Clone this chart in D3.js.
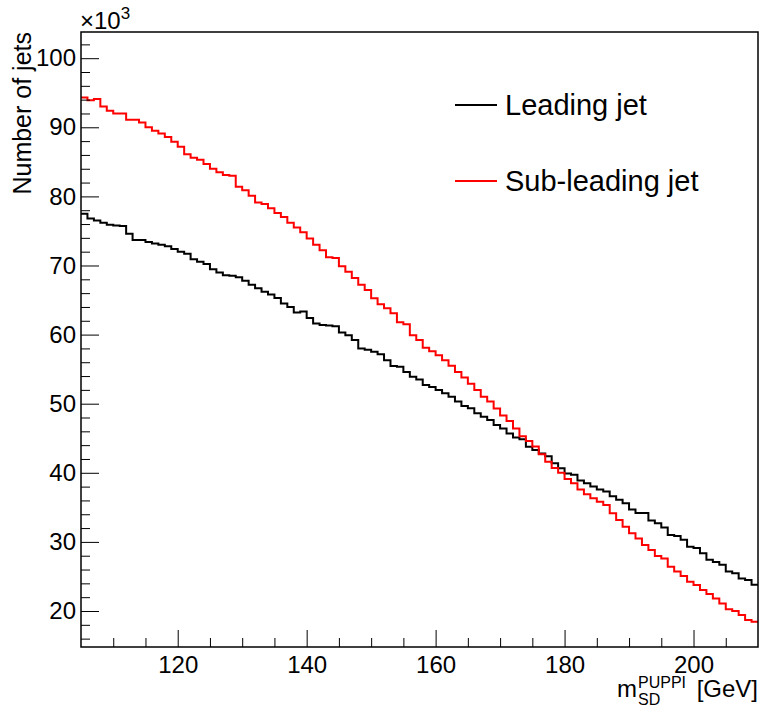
<!DOCTYPE html>
<html>
<head>
<meta charset="utf-8">
<script src="https://cdn.jsdelivr.net/npm/d3@7"></script>
<style>
  body { margin: 0; background: #fff; }
  text { font-family: "Liberation Sans", Arial, Helvetica, sans-serif; }
</style>
</head>
<body>
<div id="svgcontainer"></div>
<script>
// bin range (GeV), 1 GeV bins
const xMin = 105;
const xMax = 210;

// Number of jets per bin, in units of 10^3
const leadingJet = [
  77.5, 76.8, 76.5, 76.2, 75.9, 75.8, 75.7, 74.6, 73.7, 73.7, 73.4, 73.2, 73.0, 72.8,
  72.4, 72.0, 71.7, 70.9, 70.55, 70.2, 69.45, 69.0, 68.6, 68.5, 68.3, 67.8, 67.2,
  66.7, 66.2, 65.8, 65.3, 64.5, 64.0, 63.2, 63.35, 62.4, 61.6, 61.4, 61.3, 61.2, 60.3,
  59.9, 59.2, 58.0, 57.8, 57.5, 57.15, 56.3, 55.45, 55.35, 54.6, 53.9, 53.5, 52.7,
  52.4, 52.0, 51.5,
  51.0, 50.3, 49.67, 49.33, 48.6, 48.1, 47.64, 46.9, 46.4, 45.7, 45.1, 44.85, 43.78,
  43.3, 42.8, 42.4, 41.37, 40.65, 39.9, 39.7, 38.9, 38.5, 38.0, 37.6,
  37.3, 36.6, 36.1, 35.6, 34.7, 34.2, 34.2, 33.1, 32.7, 32.1, 31.0, 30.85, 30.3,
  29.3, 29.1, 28.35, 27.4, 27.1, 26.7, 25.7, 25.45, 24.7, 24.5, 23.8
];
const subLeadingJet = [
  94.3, 93.9, 94.1, 93.0, 92.4, 92.0, 92.0, 91.1, 91.1, 90.7, 90.0, 89.5, 89.1, 88.6,
  87.9, 87.2, 86.1, 85.6, 85.3, 84.7, 84.0, 83.5, 83.1, 83.0, 81.4, 80.9, 80.1, 79.1,
  78.9, 78.3, 77.6, 77.0, 76.2, 75.5, 74.8, 73.9, 73.0, 72.2, 71.2, 71.1, 69.9,
  69.1, 68.2, 67.2, 66.45, 65.25, 64.4, 63.8, 63.1, 61.8, 61.5, 59.9, 59.2, 58.1,
  57.6, 57.0, 56.3, 55.5, 54.6, 53.8, 52.9, 52.0, 51.0, 50.3, 49.3, 48.3, 47.5, 46.4,
  45.3, 44.6, 43.8, 42.7, 41.6, 40.7, 40.0, 39.1, 38.5, 37.6, 36.9, 36.3, 35.8,
  35.34, 34.14, 33.17, 32.2, 31.24, 30.5, 29.55, 28.83, 27.96, 27.6, 26.4, 25.7,
  25.07, 24.25, 23.76, 23.04, 22.46, 21.8, 21.1, 20.25, 20.0, 19.42, 18.7, 18.45
];

const xMajorTicks = [120, 140, 160, 180, 200];
const yMajorTicks = [20, 30, 40, 50, 60, 70, 80, 90, 100];
const yRange = [14.79, 103.79];

const series = [
  { name: "Leading jet", values: leadingJet, color: "#000000" },
  { name: "Sub-leading jet", values: subLeadingJet, color: "#ff0000" }
];

const margin = { top: 32, right: 2, bottom: 64, left: 81 };
const svgWidth = 760;
const svgHeight = 711;
const width = svgWidth - margin.left - margin.right;
const height = svgHeight - margin.top - margin.bottom;

const svg = d3.select("#svgcontainer")
  .append("svg")
  .attr("width", svgWidth)
  .attr("height", svgHeight);

const g = svg.append("g")
  .attr("transform", `translate(${margin.left}, ${margin.top})`);

const xScale = d3.scaleLinear().domain([xMin, xMax]).range([0, width]);
const yScale = d3.scaleLinear().domain(yRange).range([height, 0]);

g.append("defs").append("clipPath").attr("id", "plotclip")
  .append("rect").attr("width", width).attr("height", height);

// histograms as steps
const line = d3.line()
  .x((d) => xScale(d[0]))
  .y((d) => yScale(d[1]))
  .curve(d3.curveStepAfter);

series.forEach((s) => {
  const pts = s.values.map((v, i) => [xMin + i, v]);
  pts.push([xMin + s.values.length, s.values[s.values.length - 1]]);
  g.append("path")
    .attr("clip-path", "url(#plotclip)")
    .attr("fill", "none")
    .attr("stroke", s.color)
    .attr("stroke-width", 2)
    .attr("d", line(pts));
});

// minor ticks
const xMinor = d3.range(110, 210, 5).filter((d) => !xMajorTicks.includes(d));
const yMinor = d3.range(16, 104, 2).filter((d) => !yMajorTicks.includes(d));

g.append("g")
  .attr("transform", `translate(0, ${height})`)
  .call(d3.axisBottom(xScale).tickValues(xMinor).tickSize(-9).tickFormat(""))
  .call((a) => a.select(".domain").remove());
g.append("g")
  .call(d3.axisLeft(yScale).tickValues(yMinor).tickSize(-9).tickFormat(""))
  .call((a) => a.select(".domain").remove());

// major ticks + labels
g.append("g")
  .attr("transform", `translate(0, ${height})`)
  .call(d3.axisBottom(xScale).tickValues(xMajorTicks).tickSize(-17).tickPadding(9))
  .call((a) => a.select(".domain").remove());
g.append("g")
  .call(d3.axisLeft(yScale).tickValues(yMajorTicks).tickSize(-18).tickPadding(5))
  .call((a) => a.select(".domain").remove());

g.selectAll(".tick text")
  .attr("font-family", "Liberation Sans, Arial, sans-serif")
  .attr("font-size", "24px")
  .attr("fill", "#000");
g.selectAll(".tick line").attr("stroke", "#000").attr("stroke-width", 1);

// frame
g.append("rect")
  .attr("width", width)
  .attr("height", height)
  .attr("fill", "none")
  .attr("stroke", "#000")
  .attr("stroke-width", 1.5);

// y title
svg.append("text")
  .attr("transform", `translate(31, ${margin.top}) rotate(-90)`)
  .attr("text-anchor", "end")
  .attr("font-size", "25px")
  .text("Number of jets");

// x10^3 exponent
const expo = svg.append("text")
  .attr("x", 80)
  .attr("y", 29)
  .attr("font-size", "24px");
expo.append("tspan").text("\u00d710");
expo.append("tspan").attr("dy", -10).attr("font-size", "17px").text("3");

// x title: m_SD^PUPPI [GeV]
const xt = svg.append("g");
xt.append("text").attr("x", 617).attr("y", 697).attr("font-size", "24px").text("m");
xt.append("text").attr("x", 638).attr("y", 688).attr("font-size", "16px").text("PUPPI");
xt.append("text").attr("x", 638).attr("y", 705).attr("font-size", "16px").text("SD");
xt.append("text").attr("x", 758).attr("y", 697).attr("text-anchor", "end")
  .attr("font-size", "24px").text("[GeV]");

// legend
const legend = svg.append("g");
series.forEach((s, i) => {
  const ly = 105 + i * 76;
  legend.append("line")
    .attr("x1", 455).attr("x2", 497)
    .attr("y1", ly).attr("y2", ly)
    .attr("stroke", s.color)
    .attr("stroke-width", 2);
  legend.append("text")
    .attr("x", 505)
    .attr("y", ly + 10)
    .attr("font-size", "29px")
    .text(s.name);
});
</script>
</body>
</html>
